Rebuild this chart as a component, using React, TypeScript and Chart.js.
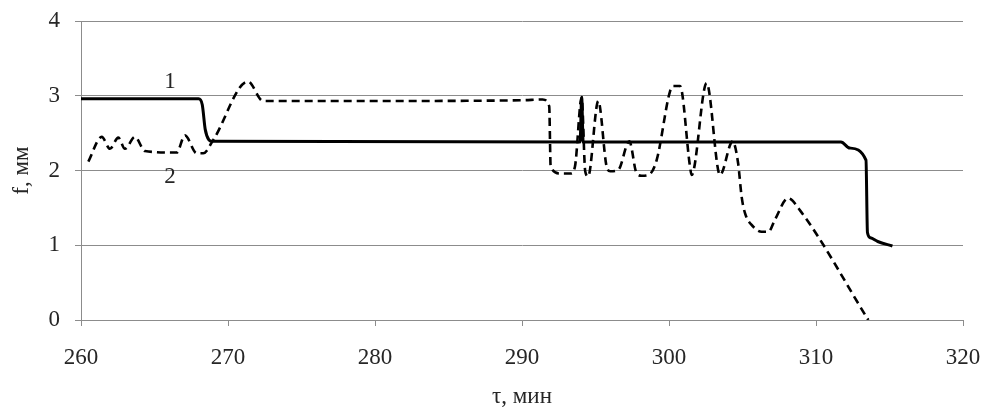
import React, { useEffect, useRef } from "react";
import { Chart, registerables } from "chart.js";

Chart.register(...registerables);

// Curve 1 (solid)
const t1 = [260, 268.0, 268.25, 268.45, 268.7, 268.9, 293.95, 294.06, 294.16, 311.7, 312.3, 313.4, 313.5, 313.7, 314.2, 315.2];
const f1 = [2.96, 2.96, 2.88, 2.55, 2.41, 2.39, 2.38, 2.98, 2.38, 2.38, 2.3, 2.14, 1.17, 1.1, 1.05, 0.99];

// Curve 2 (dashed)
const t2 = [
  260.5, 261.41, 261.97, 262.54, 262.99, 263.67, 264.35, 266.51, 267.07, 267.87, 268.32, 269.0,
  271.36, 272.38, 280, 290, 291.4, 291.85, 291.95, 292.6, 293.3, 293.6, 294.06, 294.3, 294.5,
  295.19, 295.76, 296.0, 296.55, 297.3, 297.8, 298.14, 298.6, 299.16, 300.07, 300.3, 300.75,
  301.43, 301.54, 302.56, 303.47, 304.33, 304.7, 304.94, 305.17, 305.73, 306.3, 306.76, 307.2,
  308.1, 308.9, 313.56,
];
const f2 = [
  2.12, 2.45, 2.29, 2.44, 2.29, 2.45, 2.26, 2.24, 2.47, 2.23, 2.23, 2.41,
  3.19, 2.93, 2.93, 2.94, 2.95, 2.86, 2.05, 1.96, 1.96, 2.05, 2.98, 1.99, 1.92,
  2.93, 2.05, 1.99, 2.01, 2.39, 1.96, 1.93, 1.94, 2.14, 3.06, 3.13, 3.13,
  2.05, 1.94, 3.17, 1.94, 2.39, 2.1, 1.65, 1.43, 1.25, 1.18, 1.18, 1.34,
  1.63, 1.47, 0,
];

const xTicks = [260, 270, 280, 290, 300, 310, 320];
const yTicks = [0, 1, 2, 3, 4];

const curveLabels = ["1", "2"];
const labelT = [266.05, 266.05];
const labelF = [3.19, 1.92];

const FONT = "'Liberation Serif', 'Times New Roman', serif";
const TEXT = "#262626";
const GRID = "#8c8c8c";

const labelPlugin = {
  id: "curveLabels",
  afterDatasetsDraw(chart: any) {
    const { ctx, scales } = chart;
    ctx.save();
    ctx.font = `23px ${FONT}`;
    ctx.fillStyle = TEXT;
    ctx.textAlign = "center";
    ctx.textBaseline = "middle";
    curveLabels.forEach((s, i) => {
      ctx.fillText(s, scales.x.getPixelForValue(labelT[i]), scales.y.getPixelForValue(labelF[i]));
    });
    ctx.restore();
  },
};

export default function App() {
  const ref = useRef<HTMLCanvasElement | null>(null);
  useEffect(() => {
    document.body.style.margin = "0";
    if (!ref.current) return;
    const chart = new Chart(ref.current, {
      type: "line",
      data: {
        datasets: [
          {
            label: "1",
            data: t1.map((t, i) => ({ x: t, y: f1[i] })),
            borderColor: "#000",
            borderWidth: 3,
            pointRadius: 0,
            cubicInterpolationMode: "monotone",
            fill: false,
          },
          {
            label: "2",
            data: t2.map((t, i) => ({ x: t, y: f2[i] })),
            borderColor: "#000",
            borderWidth: 2.6,
            borderDash: [8, 5],
            pointRadius: 0,
            cubicInterpolationMode: "monotone",
            fill: false,
          },
        ],
      },
      options: {
        animation: false,
        responsive: true,
        maintainAspectRatio: false,
        layout: { padding: { top: 21, right: 21, bottom: 0, left: 0 } },
        plugins: { legend: { display: false }, tooltip: { enabled: false } },
        scales: {
          x: {
            type: "linear",
            min: 260,
            max: 320,
            afterBuildTicks: (s: any) => {
              s.ticks = xTicks.map((v) => ({ value: v }));
            },
            afterFit: (s: any) => {
              s.height = 94;
              s.paddingLeft = 0;
              s.paddingRight = 0;
            },
            grid: { drawOnChartArea: false, drawTicks: true, tickLength: 6, color: GRID },
            border: { color: GRID, width: 1 },
            ticks: { font: { family: FONT, size: 23 }, color: TEXT, padding: 18, maxRotation: 0 },
            title: {
              display: true,
              text: "τ, мин",
              font: { family: FONT, size: 23 },
              color: TEXT,
              padding: { top: 0, bottom: 3 },
            },
          },
          y: {
            min: 0,
            max: 4,
            afterBuildTicks: (s: any) => {
              s.ticks = yTicks.map((v) => ({ value: v }));
            },
            afterFit: (s: any) => {
              s.width = 81;
              s.paddingTop = 0;
              s.paddingBottom = 0;
            },
            grid: { drawOnChartArea: true, drawTicks: true, tickLength: 6, color: GRID },
            border: { color: GRID, width: 1 },
            ticks: { font: { family: FONT, size: 23 }, color: TEXT, padding: 15 },
            title: {
              display: true,
              text: "f, мм",
              font: { family: FONT, size: 23 },
              color: TEXT,
              padding: { top: 8, bottom: 0 },
            },
          },
        },
      },
      plugins: [labelPlugin],
    } as any);
    return () => chart.destroy();
  }, []);
  return (
    <div style={{ position: "absolute", left: 0, top: 0, width: 984, height: 414, background: "#fff" }}>
      <canvas ref={ref} />
    </div>
  );
}
